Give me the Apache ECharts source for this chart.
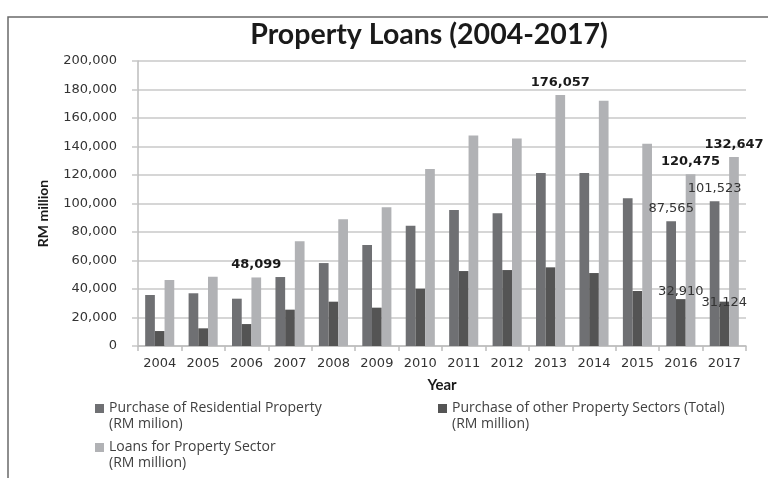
<!DOCTYPE html>
<html>
<head>
<meta charset="utf-8">
<script src="https://cdn.jsdelivr.net/npm/echarts@6/dist/echarts.min.js"></script>
<style>
  html, body { margin: 0; padding: 0; background: #fff; }
  #chart { width: 768px; height: 478px; }
</style>
</head>
<body>
<div id="chart"></div>
<script>
// Property loans by year, RM million
const years = ['2004','2005','2006','2007','2008','2009','2010','2011','2012','2013','2014','2015','2016','2017'];
const residential = [35800, 37000, 33200, 48400, 58200, 70900, 84400, 95400, 93100, 121400, 121400, 103600, 87565, 101523];
const otherSectors = [10500, 12400, 15400, 25500, 31100, 26900, 40200, 52600, 53300, 55200, 51200, 38600, 32910, 31124];
const propertyLoans = [46300, 48600, 48099, 73500, 88900, 97300, 124200, 147800, 145700, 176057, 172100, 142000, 120475, 132647];

const seriesNames = [
  'Purchase of Residential Property\n(RM milion)',
  'Purchase of other Property Sectors (Total)\n(RM million)',
  'Loans for Property Sector\n(RM million)'
];
const barColors = ['#6f7073', '#545454', '#b1b2b5'];

// Years whose bars carry a value label
const residentialLabelled = ['2016', '2017'];
const otherLabelled = ['2016', '2017'];
const loansLabelled = ['2006', '2013', '2016', '2017'];

const fmt = v => v.toLocaleString('en-US');

function withLabels(values, labelled, labelStyle, perYearOffset) {
  return values.map((v, i) => {
    if (labelled.indexOf(years[i]) < 0) return v;
    const off = (perYearOffset && perYearOffset[years[i]]) || [0, 0];
    return {
      value: v,
      label: Object.assign({
        show: true,
        position: 'top',
        distance: 6,
        offset: off,
        formatter: p => fmt(p.value)
      }, labelStyle)
    };
  });
}

const plainLabel = { fontFamily: 'DejaVu Sans', fontSize: 13, color: '#333' };
const boldLabel = { fontFamily: 'DejaVu Sans', fontSize: 13, fontWeight: 'bold', color: '#1a1a1a' };

const chart = echarts.init(document.getElementById('chart'), null, { renderer: 'canvas' });

const legendText = {
  fontFamily: 'Open Sans',
  fontSize: 14,
  color: '#404040',
  lineHeight: 16
};

// Square marker sitting level with the first line of a two-line legend entry
const topSquare = 'path://M0,0H9V9H0Z M0,23.99H0.01V24H0Z';

function legendAt(name, left, top) {
  return {
    data: [name],
    left: left,
    top: top,
    orient: 'horizontal',
    itemWidth: 9,
    itemHeight: 24,
    itemGap: 3,
    icon: topSquare,
    selectedMode: false,
    padding: 0,
    textStyle: legendText
  };
}

chart.setOption({
  animation: false,
  backgroundColor: '#fff',
  title: {
    text: 'Property Loans (2004-2017)',
    left: 424,
    textAlign: 'center',
    top: 15,
    textStyle: { fontFamily: 'Lato', fontSize: 28.5, fontWeight: 'bold', color: '#1a1a1a' }
  },
  graphic: [{
    type: 'polyline',
    shape: { points: [[8, 490], [8, 17], [780, 17]] },
    style: { stroke: '#6a6a6a', lineWidth: 1.5, fill: null },
    silent: true
  }],
  legend: [
    legendAt(seriesNames[0], 95, 400),
    legendAt(seriesNames[1], 438, 400),
    legendAt(seriesNames[2], 95, 439)
  ],
  grid: { left: 138, right: 22, top: 61, bottom: 132, containLabel: false },
  xAxis: {
    type: 'category',
    data: years,
    name: 'Year',
    nameLocation: 'middle',
    nameGap: 32,
    nameTextStyle: { fontFamily: 'Lato', fontSize: 15, fontWeight: 'bold', color: '#1a1a1a' },
    axisLine: { lineStyle: { color: '#bdbdbd', width: 1.5 } },
    axisTick: { show: true, length: 5, lineStyle: { color: '#bdbdbd', width: 1.5 } },
    axisLabel: { fontFamily: 'DejaVu Sans', fontSize: 13, color: '#333', margin: 11 }
  },
  yAxis: {
    type: 'value',
    min: 0,
    max: 200000,
    interval: 20000,
    name: 'RM million',
    nameLocation: 'middle',
    nameGap: 88,
    nameRotate: 90,
    nameTextStyle: { fontFamily: 'Lato', fontSize: 14, fontWeight: 'bold', color: '#1a1a1a', padding: [0, 20, 0, 0] },
    axisLine: { show: true, lineStyle: { color: '#bdbdbd', width: 1.5 } },
    axisTick: { show: true, length: 6, lineStyle: { color: '#c8c8c8', width: 1.5 } },
    splitLine: { lineStyle: { color: '#c8c8c8', width: 1.5 } },
    axisLabel: { fontFamily: 'DejaVu Sans', fontSize: 13, color: '#333', margin: 21, formatter: v => fmt(v) }
  },
  series: [
    {
      name: seriesNames[0],
      type: 'bar',
      barGap: '0%',
      barCategoryGap: '33%',
      itemStyle: { color: barColors[0] },
      data: withLabels(residential, residentialLabelled, plainLabel)
    },
    {
      name: seriesNames[1],
      type: 'bar',
      barGap: '0%',
      barCategoryGap: '33%',
      itemStyle: { color: barColors[1] },
      data: withLabels(otherSectors, otherLabelled, plainLabel, { '2016': [0, 5], '2017': [0, 13] })
    },
    {
      name: seriesNames[2],
      type: 'bar',
      barGap: '0%',
      barCategoryGap: '33%',
      itemStyle: { color: barColors[2] },
      data: withLabels(propertyLoans, loansLabelled, boldLabel)
    }
  ]
});
</script>
</body>
</html>
